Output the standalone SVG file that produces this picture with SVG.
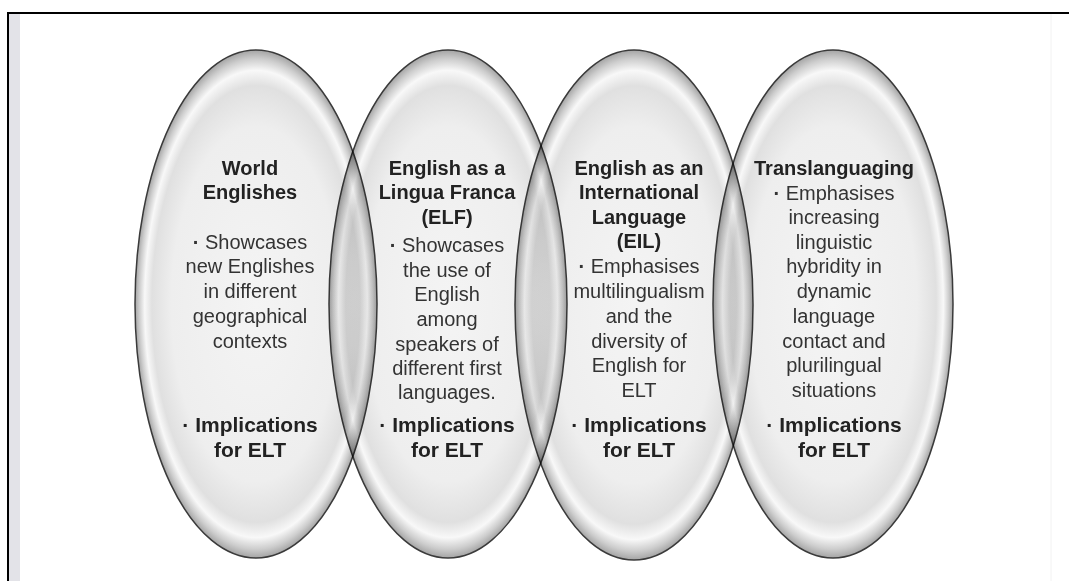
<svg xmlns="http://www.w3.org/2000/svg" width="1069" height="581" viewBox="0 0 1069 581">
  <defs>
    <radialGradient id="egg" cx="0.5" cy="0.5" r="0.5">
      <stop offset="0" stop-color="#f4f4f4"/>
      <stop offset="0.7" stop-color="#eeeeee"/>
      <stop offset="0.86" stop-color="#e0e0e0"/>
      <stop offset="0.92" stop-color="#f8f8f8"/>
      <stop offset="0.965" stop-color="#cdcdcd"/>
      <stop offset="1" stop-color="#a4a4a4"/>
    </radialGradient>
  </defs>
  <style>
    .oval { fill: url(#egg); stroke: #3a3a3a; stroke-width: 1.5; mix-blend-mode: multiply; }
    .t { font-family: "Liberation Sans", Arial, sans-serif; font-size: 20px; text-anchor: middle; fill: #333; }
    .b { font-weight: bold; fill: #222; }
    .imp { font-size: 21px; }
    .dot { font-weight: bold; }
  </style>
  <rect x="0" y="0" width="1069" height="581" fill="#ffffff"/>
  <g id="frame">
    <rect x="9" y="14" width="11" height="567" fill="#e3e3e8"/>
    <line x1="1051" y1="14" x2="1051" y2="581" stroke="#f2f2f2" stroke-width="1"/>
    <path d="M8 581 V13 H1069" fill="none" stroke="#000" stroke-width="2"/>
  </g>
  <g id="shapes">
    <g id="node-world-englishes">
      <ellipse class="oval" cx="256" cy="304" rx="121" ry="254"/>
      <text class="t b" x="250" y="175">World</text>
      <text class="t b" x="250" y="199">Englishes</text>
      <text class="t" x="250" y="249"><tspan class="dot">·</tspan> Showcases</text>
      <text class="t" x="250" y="273">new Englishes</text>
      <text class="t" x="250" y="298">in different</text>
      <text class="t" x="250" y="323">geographical</text>
      <text class="t" x="250" y="348">contexts</text>
      <text class="t b imp" x="250" y="432">· Implications</text>
      <text class="t b imp" x="250" y="457">for ELT</text>
    </g>
    <g id="node-elf">
      <ellipse class="oval" cx="448" cy="304" rx="119" ry="254"/>
      <text class="t b" x="447" y="175">English as a</text>
      <text class="t b" x="447" y="199">Lingua Franca</text>
      <text class="t b" x="447" y="224">(ELF)</text>
      <text class="t" x="447" y="252"><tspan class="dot">·</tspan> Showcases</text>
      <text class="t" x="447" y="277">the use of</text>
      <text class="t" x="447" y="301">English</text>
      <text class="t" x="447" y="326">among</text>
      <text class="t" x="447" y="351">speakers of</text>
      <text class="t" x="447" y="375">different first</text>
      <text class="t" x="447" y="399">languages.</text>
      <text class="t b imp" x="447" y="432">· Implications</text>
      <text class="t b imp" x="447" y="457">for ELT</text>
    </g>
    <g id="node-eil">
      <ellipse class="oval" cx="634" cy="305" rx="119" ry="255"/>
      <text class="t b" x="639" y="175">English as an</text>
      <text class="t b" x="639" y="199">International</text>
      <text class="t b" x="639" y="224">Language</text>
      <text class="t b" x="639" y="248">(EIL)</text>
      <text class="t" x="639" y="273"><tspan class="dot">·</tspan> Emphasises</text>
      <text class="t" x="639" y="298">multilingualism</text>
      <text class="t" x="639" y="323">and the</text>
      <text class="t" x="639" y="348">diversity of</text>
      <text class="t" x="639" y="372">English for</text>
      <text class="t" x="639" y="397">ELT</text>
      <text class="t b imp" x="639" y="432">· Implications</text>
      <text class="t b imp" x="639" y="457">for ELT</text>
    </g>
    <g id="node-translanguaging">
      <ellipse class="oval" cx="833" cy="304" rx="120" ry="254"/>
      <text class="t b" x="834" y="175">Translanguaging</text>
      <text class="t" x="834" y="200"><tspan class="dot">·</tspan> Emphasises</text>
      <text class="t" x="834" y="224">increasing</text>
      <text class="t" x="834" y="249">linguistic</text>
      <text class="t" x="834" y="273">hybridity in</text>
      <text class="t" x="834" y="298">dynamic</text>
      <text class="t" x="834" y="323">language</text>
      <text class="t" x="834" y="348">contact and</text>
      <text class="t" x="834" y="372">plurilingual</text>
      <text class="t" x="834" y="397">situations</text>
      <text class="t b imp" x="834" y="432">· Implications</text>
      <text class="t b imp" x="834" y="457">for ELT</text>
    </g>
  </g>
  <g id="connectors"/>
</svg>
